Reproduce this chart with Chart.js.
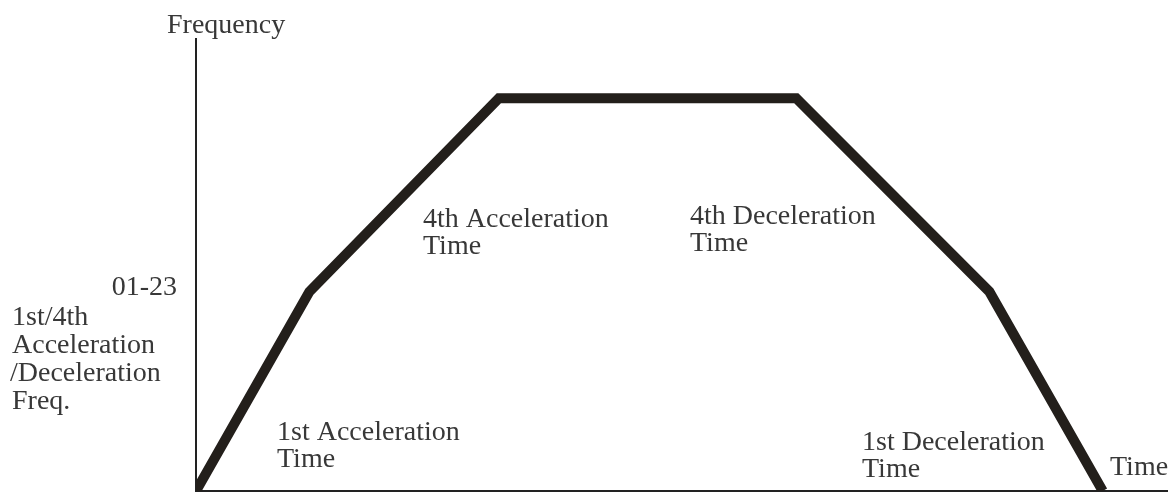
<!DOCTYPE html>
<html>
<head>
<meta charset="utf-8">
<script src="https://cdn.jsdelivr.net/npm/chart.js@4/dist/chart.umd.min.js"></script>
<style>
  html, body { margin: 0; padding: 0; background: #ffffff; }
  #wrap { width: 1168px; height: 493px; position: relative; }
</style>
</head>
<body>
<div id="wrap"><canvas id="c" width="1168" height="493"></canvas></div>
<script>
// Time axis (arbitrary units) and frequency values
const timePoints = [0, 1.25, 3.34, 6.62, 8.75, 10.0];
const freqValues = [0, 4.41, 8.69, 8.69, 4.41, 0];
const axisTitleY = "Frequency";
const axisTitleX = "Time";
const levelTickLabel = "01-23";
const levelDescription = ["1st/4th", "Acceleration", "/Deceleration", "Freq."];
const segmentLabels = [
  ["1st Acceleration", "Time"],
  ["4th Acceleration", "Time"],
  ["4th Deceleration", "Time"],
  ["1st Deceleration", "Time"]
];

const FONT = '28px "Liberation Serif", "Times New Roman", serif';
const TEXT_COLOR = '#383838';

const textPlugin = {
  id: 'textLabels',
  afterDraw(chart) {
    const ctx = chart.ctx;
    ctx.save();
    ctx.font = FONT;
    ctx.fillStyle = TEXT_COLOR;
    ctx.textBaseline = 'alphabetic';
    ctx.textAlign = 'left';
    // axis titles
    ctx.fillText(axisTitleY, 167, 33);
    ctx.fillText(axisTitleX, 1110, 475);
    // level label
    ctx.textAlign = 'right';
    ctx.fillText(levelTickLabel, 177, 295);
    ctx.textAlign = 'left';
    const descX = [12, 12, 10, 12];
    levelDescription.forEach((t, i) => ctx.fillText(t, descX[i], 325 + i * 28));
    // segment labels
    const segPos = [[277, 440], [423, 227], [690, 224], [862, 450]];
    segmentLabels.forEach((lines, i) => {
      lines.forEach((t, j) => ctx.fillText(t, segPos[i][0], segPos[i][1] + j * 27));
    });
    ctx.restore();
  }
};

new Chart(document.getElementById('c'), {
  type: 'line',
  data: {
    datasets: [{
      data: timePoints.map((t, i) => ({ x: t, y: freqValues[i] })),
      borderColor: '#231f1b',
      borderWidth: 10,
      borderJoinStyle: 'miter',
      borderCapStyle: 'butt',
      pointRadius: 0,
      tension: 0,
      fill: false
    }]
  },
  options: {
    responsive: false,
    animation: false,
    events: [],
    layout: { padding: { left: 196, right: 0, top: 39, bottom: 2 } },
    plugins: { legend: { display: false }, tooltip: { enabled: false }, title: { display: false } },
    scales: {
      x: {
        type: 'linear', min: 0, max: 10.72,
        grid: { display: false, drawTicks: false },
        ticks: { display: false },
        border: { display: true, color: '#222', width: 2 }
      },
      y: {
        type: 'linear', min: 0, max: 10,
        grid: { display: false, drawTicks: false },
        ticks: { display: false },
        border: { display: true, color: '#222', width: 2 }
      }
    }
  },
  plugins: [textPlugin]
});
</script>
</body>
</html>
